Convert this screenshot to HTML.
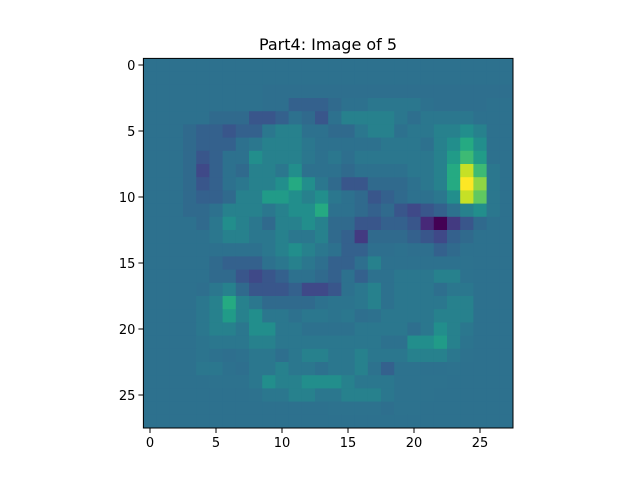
<!DOCTYPE html>
<html><head><meta charset="utf-8"><style>
html,body{margin:0;padding:0;background:#fff;}
svg{display:block;font-family:"DejaVu Sans","Liberation Sans",sans-serif;}
</style></head><body>
<svg id="chart" width="640" height="480" viewBox="0 0 640 480">
<text x="328" y="50" text-anchor="middle" font-size="16" fill="#000">Part4: Image of 5</text>
<g id="cells"></g>
<g id="axes"></g>
</svg>
<script>
const xTicks = [0,5,10,15,20,25];
const yTicks = [0,5,10,15,20,25];
const gridRows = [
[4,4,4,4,4,4,4,4,4,4,4,4,4,4,4,4,4,4,4,4,4,4,4,4,4,4,4,4],
[4,4,4,4,4,4,4,4,4,4,4,4,4,4,4,4,4,4,4,4,4,4,4,4,4,4,4,4],
[4,4,4,4,4,4,4,4,4,3.8,3.8,3.8,3.8,3.8,3.8,3.8,3.8,3.8,3.8,3.8,3.8,3.8,3.8,3.8,3.8,3.8,3.8,3.8],
[4,4,4,4,4,4,4,4,4,3.8,3.8,3,3,3,3.5,4,4,4.5,4.5,4.5,4.5,4,3.8,3.8,3.8,3.8,4,4],
[4,4,4,4,4,3.5,3.5,3.5,2.5,2.5,3,4,3.5,2.5,4,5,5,5,5,4.5,3.8,4.5,4.5,4.5,4.5,4,4,4],
[4,4,4,3.5,3,3,2.5,3,3,4.5,5,5,4,4,3.5,3.5,4.5,5,5,4,4.5,4.5,5,5,5.5,5,4,4],
[4,4,4,3.5,3,3,3,4,4.5,5,5,5,4.5,4,4,4,4,4,4.5,4.5,4.5,4,5,5.5,6.5,5.5,4,4],
[4,4,4,3.5,2.5,3,4,4,5.5,5,5,5,4.5,4,4.5,3.8,4.5,4.5,4.5,4.5,4.5,4.5,5,6,7,6,4,4],
[4,4,4,3.5,2,3,4,3.5,5,5,4.5,5.5,4,4,4,3.5,4,4,4,4,4.5,4.5,5,6.5,8.5,7,4.5,4],
[4,4,4,3.5,2.5,3,4,4.5,5,5,5.5,6.5,5.5,4.5,3.5,2.5,2.5,3.5,3.5,3.5,4,4.5,5,6.5,9,8,4.5,4],
[4,4,4,3.5,3,3,3.5,5,5,6,6,5.5,5,5.5,4.5,4,3.5,2.5,3,3.5,4,4,4.5,5.5,8.5,7.5,4.5,4],
[4,4,4,3.5,3.5,4,5,5,5,4.5,5,5.5,5.5,6.5,4,4,3.5,3,3.5,2.5,2,2.5,3,4,5,5.5,4.5,4],
[4,4,4,4,3.5,4.5,5.5,5,4.5,3.5,5,5,5.5,5,3.5,3.5,2.5,2.5,3,3,2.5,1,0,1.5,2.5,3.5,4,4],
[4,4,4,4,4,4.5,5,5,4.5,4.5,5,4.5,4.5,5,3.5,3,1.5,3.5,3.5,3.5,3,2.5,2,3,3.5,4,4,4],
[4,4,4,4,4,4,4,4,4,4.5,5,5.5,5,4.5,4,3,3,3.8,3.8,4,3.8,3.8,3,3.5,4,4,4,4],
[4,4,4,4,4,3.5,3,3,3,4,4.5,5,4.5,3.8,3,3,3.8,5,4,4,4,4,4,4,4.2,4,4,4],
[4,4,4,4,4,3.5,3.5,2.5,2,2.5,3,4,4,3.5,3,4,3,4,4,4.5,4.5,4.5,5,5,4.2,4,4,4],
[4,4,4,4,3.8,4.5,5,3.5,2.5,2.5,2.5,3,2,2,2.5,4,4.5,5,4,4.5,4.5,4.5,3.8,4.5,4.5,4,4,4],
[4,4,4,4,4.5,5,6.5,5,4.5,3.5,3.5,3.5,3.5,4,4.3,4.3,4.5,5,4,4.5,4.5,4.5,4.5,5,5,4,4,4],
[4,4,4,4,4.5,5,6,5,5.5,4.5,4.5,4,4.5,4.5,4.3,4.5,3.8,4,4.5,4.5,4.5,4.5,5,5,5,4,4,4],
[4,4,4,4,4.5,5,5,4.5,5.5,5.5,4.5,4.5,4,4,4,4,4.5,4.5,4.5,4.5,3.8,4.5,5.5,5,4.5,4,4,4],
[4,4,4,4,4.3,4.5,4.5,4.5,5,5,4.5,4.5,4.5,4.5,4.5,4.5,4.5,4.5,4,4,5.5,5.5,6,5,4.3,4,4,4],
[4,4,4,4,4.3,4,3.8,4,4.5,4.5,3.8,4.5,5,5,4.5,4.5,5,4.5,4.5,4.5,5,5,5,4.5,4.2,4,4,4],
[4,4,4,4,4.5,4.5,4,3.8,4.5,4.5,5,4.5,4.5,4,4.5,4.5,5,4.2,3,4.2,4.2,4,4,4.2,4,4,4,4],
[4,4,4,4,4,4.2,4.2,4.2,4.5,5.5,5,5,5.5,5.5,5.5,5,4.5,4.5,4.5,4.2,4.2,4.2,4.2,4,4,4,4,4],
[4,4,4,4,4,4,4,4,4.2,4.5,4.5,5,5,4.5,4.5,5,5,5,4.5,4.2,4.2,4.2,4,4,4,4,4,4],
[4,4,4,4,4,4,4.1,4.1,4.1,4.1,4.1,4.1,4.1,4.1,4.2,4.2,4.2,4.2,3.8,4.2,4.2,4,4,4,4,4,4,4],
[4,4,4,4,4,4,4,4,4,4,4,4,4,4,4,4,4,4,4,4,4,4,4,4,4,4,4,4]
];
const NS='http://www.w3.org/2000/svg';
const L=143.4,T=58.4,S=13.2;
function xPos(v){return L+(v+0.5)*S;}
function yPos(v){return T+(v+0.5)*S;}
const stops=['#440154','#482475','#414487','#355f8d','#2a788e','#21918c','#22a884','#44bf70','#7ad151','#bddf26','#fde725'];
function hx(c){return [parseInt(c.substr(1,2),16),parseInt(c.substr(3,2),16),parseInt(c.substr(5,2),16)];}
function viridis(t){t=Math.max(0,Math.min(1,t));const p=t*10,i=Math.min(9,Math.floor(p)),f=p-i;const a=hx(stops[i]),b=hx(stops[i+1]);return 'rgb('+a.map((v,k)=>Math.round(v+(b[k]-v)*f)).join(',')+')';}
function level(v){return v<=4? 0.37*(1-Math.pow((4-v)/4,1.3)) : 0.37+0.63*Math.pow((v-4)/5,1.4);}
const cells=document.getElementById('cells');
gridRows.forEach((row,r)=>row.forEach((v,c)=>{
  const rc=document.createElementNS(NS,'rect');
  
  
  rc.setAttribute('x',(xPos(c)-S/2).toFixed(2));
  rc.setAttribute('y',(yPos(r)-S/2).toFixed(2));
  rc.setAttribute('width',(S+0.4).toFixed(2));
  rc.setAttribute('height',(S+0.4).toFixed(2));
  rc.setAttribute('fill',viridis(level(v)));
  cells.appendChild(rc);
}));
const ax=document.getElementById('axes');
const W=28*S;
const fr=document.createElementNS(NS,'rect');


fr.setAttribute('x',L);fr.setAttribute('y',T);fr.setAttribute('width',W);fr.setAttribute('height',W);
fr.setAttribute('fill','none');fr.setAttribute('stroke','#000');fr.setAttribute('stroke-width','1');
ax.appendChild(fr);
xTicks.forEach(t=>{
  const x=xPos(t);
  const ln=document.createElementNS(NS,'line');
  
  
  ln.setAttribute('x1',x);ln.setAttribute('x2',x);ln.setAttribute('y1',T+W);ln.setAttribute('y2',T+W+5);ln.setAttribute('stroke','#000');
  ax.appendChild(ln);
  const tx=document.createElementNS(NS,'text');
  
  
  tx.setAttribute('x',x);tx.setAttribute('y',T+W+19);tx.setAttribute('text-anchor','middle');tx.setAttribute('font-size','13');
  tx.textContent=t;ax.appendChild(tx);
});
yTicks.forEach(t=>{
  const y=yPos(t);
  const ln=document.createElementNS(NS,'line');
  
  
  ln.setAttribute('x1',L-5);ln.setAttribute('x2',L);ln.setAttribute('y1',y);ln.setAttribute('y2',y);ln.setAttribute('stroke','#000');
  ax.appendChild(ln);
  const tx=document.createElementNS(NS,'text');
  
  
  tx.setAttribute('x',L-8);tx.setAttribute('y',y+5);tx.setAttribute('text-anchor','end');tx.setAttribute('font-size','13');
  tx.textContent=t;ax.appendChild(tx);
});
</script>
</body></html>
